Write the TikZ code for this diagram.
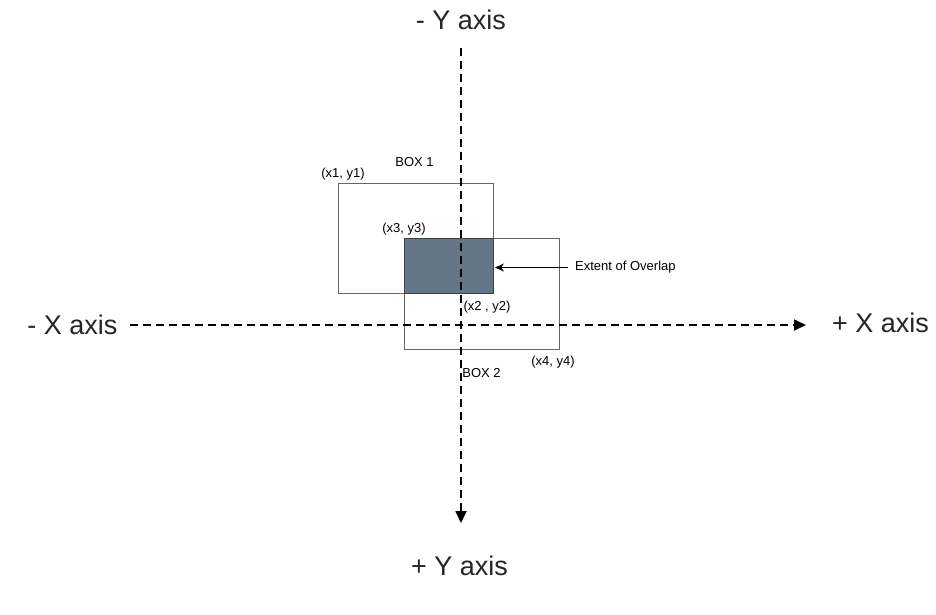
\documentclass[tikz,border=0pt]{standalone}
\usepackage{fontspec}
\setmainfont{Liberation Sans}
\usetikzlibrary{arrows.meta}

\begin{document}
\begin{tikzpicture}[x=1pt,y=-1pt,
  axis/.style={line width=1.8pt,dash pattern=on 8pt off 5pt,-{Triangle[length=12pt,width=11pt]}},
  axislabel/.style={font=\fontsize{27}{32}\selectfont,text=black!85,inner sep=0pt},
  boxarea/.style={draw=black!60,line width=0.9pt,inner sep=0pt,outer sep=0pt},
  tag/.style={font=\fontsize{13}{15}\selectfont,inner sep=0pt}]
  \useasboundingbox[fill=white] (0,0) rectangle (936,614);
  % boxes
  \node[boxarea,minimum width=155pt,minimum height=110pt] (box1) at (415.5,238) {};
  \node[boxarea,minimum width=155pt,minimum height=111pt] (box2) at (481.5,293.5) {};
  \node[boxarea,draw=black!75,fill={rgb,255:red,100;green,118;blue,135},minimum width=89pt,minimum height=55pt] (ovl) at (448.5,265.5) {};
  % axes
  \coordinate (ytop) at (461,48);
  \coordinate (ybot) at (461,523);
  \coordinate (xleft) at (130,325);
  \coordinate (xright) at (806,325);
  \draw[axis] (xleft) -- (xright);
  \draw[axis] (ytop) -- (ybot);
  \node[axislabel] (xneg) at (72.5,325) {- X axis};
  \node[axislabel] (xpos) at (880.5,323) {+ X axis};
  \node[axislabel] (yneg) at (461,20) {- Y axis};
  \node[axislabel] (ypos) at (459.5,566) {+ Y axis};
  % corner labels
  \node[tag] (b1) at (414.5,162) {BOX 1};
  \node[tag] (p1) at (343,174) {(x1, y1)};
  \node[tag] (p3) at (404,229) {(x3, y3)};
  \node[tag] (p2) at (487,307) {(x2 , y2)};
  \node[tag] (p4) at (553,362) {(x4, y4)};
  \node[tag] (b2) at (481.5,373) {BOX 2};
  \node[tag,anchor=west] (ext) at (575,267.5) {Extent of Overlap};
  \draw[line width=0.9pt,-{Stealth[length=9pt,width=8pt]}] ([xshift=-7pt]ext.west) -- ([xshift=2pt]ext.west -| ovl.east);
\end{tikzpicture}
\end{document}
